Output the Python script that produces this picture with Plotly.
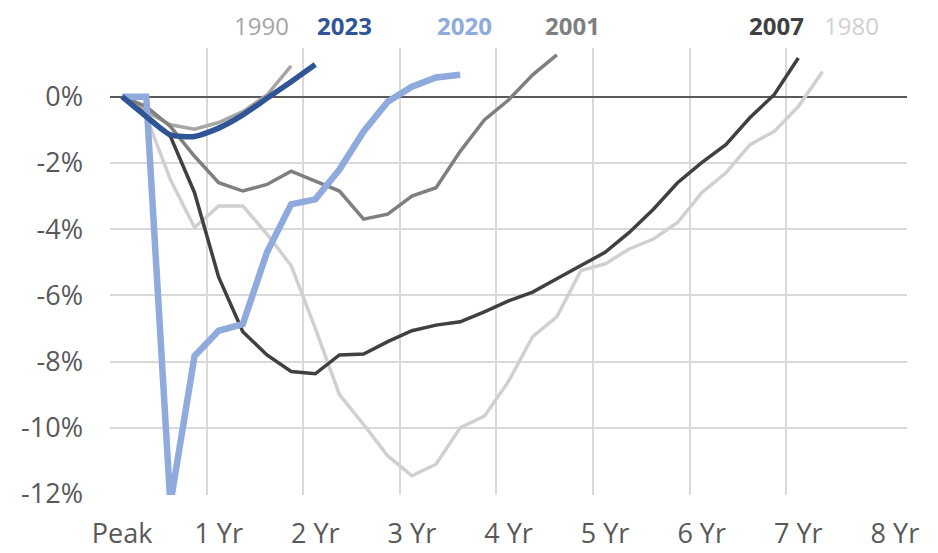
import plotly.graph_objects as go

# Quarters since the employment peak (0 = Peak); values in %
s1980 = [0, -0.6, -2.5, -3.95, -3.3, -3.3, -4.15, -5.1, -7.0, -9.0, -9.9, -10.85, -11.45,
         -11.1, -10.0, -9.65, -8.6, -7.25, -6.65, -5.25, -5.05, -4.6, -4.3, -3.8, -2.9,
         -2.3, -1.45, -1.05, -0.3, 0.75]
s1990 = [0, -0.45, -0.85, -0.98, -0.78, -0.45, 0.05, 0.93]
s2001 = [0, -0.3, -0.9, -1.8, -2.6, -2.85, -2.65, -2.25, -2.55, -2.85, -3.7, -3.55, -3.0,
         -2.75, -1.65, -0.7, -0.1, 0.66, 1.26]
s2007 = [0, -0.55, -1.2, -2.9, -5.45, -7.1, -7.8, -8.3, -8.37, -7.8, -7.77, -7.4, -7.07,
         -6.9, -6.8, -6.5, -6.17, -5.9, -5.5, -5.1, -4.7, -4.1, -3.4, -2.6, -1.99, -1.45,
         -0.63, 0.06, 1.17]
s2020 = [0, 0, -12.3, -7.83, -7.07, -6.87, -4.7, -3.25, -3.1, -2.2, -1.05, -0.15, 0.3, 0.58, 0.66]
s2023 = [0, -0.6, -1.15, -1.2, -0.95, -0.55, -0.05, 0.45, 0.97]

series_names = ["1980", "1990", "2001", "2007", "2020", "2023"]
series_values = [s1980, s1990, s2001, s2007, s2020, s2023]

x_tick_vals = [0, 4, 8, 12, 16, 20, 24, 28, 32]
x_tick_text = ["Peak", "1 Yr", "2 Yr", "3 Yr", "4 Yr", "5 Yr", "6 Yr", "7 Yr", "8 Yr"]
y_tick_vals = [0, -2, -4, -6, -8, -10, -12]
y_tick_text = ["0%", "-2%", "-4%", "-6%", "-8%", "-10%", "-12%"]

# styling (kept separate from data)
colors = {"1980": "#D0D0D0", "1990": "#A6A6A6", "2001": "#7F7F7F",
          "2007": "#404040", "2020": "#8FAADC", "2023": "#2F5597"}
widths = {"1980": 3.5, "1990": 3.5, "2001": 3.5, "2007": 3.5, "2020": 6.5, "2023": 5.5}
shapes_ = {"2023": "spline"}
label_x = {"1990": 5.79, "2023": 9.19, "2020": 14.16, "2001": 18.63, "2007": 27.11, "1980": 30.22}
label_bold = {"1990": False, "2023": True, "2020": True, "2001": True, "2007": True, "1980": False}

fig = go.Figure()
for name, vals in zip(series_names, series_values):
    fig.add_trace(go.Scatter(
        x=list(range(len(vals))), y=vals, mode="lines", name=name,
        line=dict(color=colors[name], width=widths[name],
                  shape=shapes_.get(name, "linear"), smoothing=0.6),
        showlegend=False, hoverinfo="skip"))

for name in series_names:
    txt = f"<b>{name}</b>" if label_bold[name] else name
    fig.add_annotation(x=label_x[name], xref="x", y=1.051, yref="paper",
                       text=txt, showarrow=False, xanchor="center", yanchor="middle",
                       font=dict(family="Open Sans", size=24, color=colors[name]))

fig.update_layout(
    width=938, height=553,
    margin=dict(l=110, r=31, t=48, b=58, autoexpand=False),
    plot_bgcolor="white", paper_bgcolor="white",
    font=dict(family="Open Sans", color="#595959"),
)
fig.update_xaxes(
    range=[-0.5, 32.5], tickmode="array", tickvals=x_tick_vals, ticktext=x_tick_text,
    showgrid=False, zeroline=False, showline=False, ticks="", automargin=False,
    tickfont=dict(family="Open Sans", size=27, color="#595959"),
    ticklabelstandoff=20,
    minor=dict(tickmode="array", tickvals=[v - 0.5 for v in x_tick_vals[:-1]],
               showgrid=True, gridcolor="#D9D9D9", gridwidth=1.5, ticks=""),
)
fig.update_yaxes(
    range=[-12.03, 1.47], tickmode="array", tickvals=y_tick_vals, ticktext=y_tick_text,
    showgrid=True, gridcolor="#D9D9D9", gridwidth=1.5,
    zeroline=True, zerolinecolor="#595959", zerolinewidth=2,
    showline=False, ticks="", automargin=False,
    tickfont=dict(family="Open Sans", size=27, color="#595959"),
    ticklabelstandoff=26,
)

fig.write_html("out.html", config={"displayModeBar": False},
               post_script="document.body.style.margin='0';document.body.style.overflow='hidden';")
